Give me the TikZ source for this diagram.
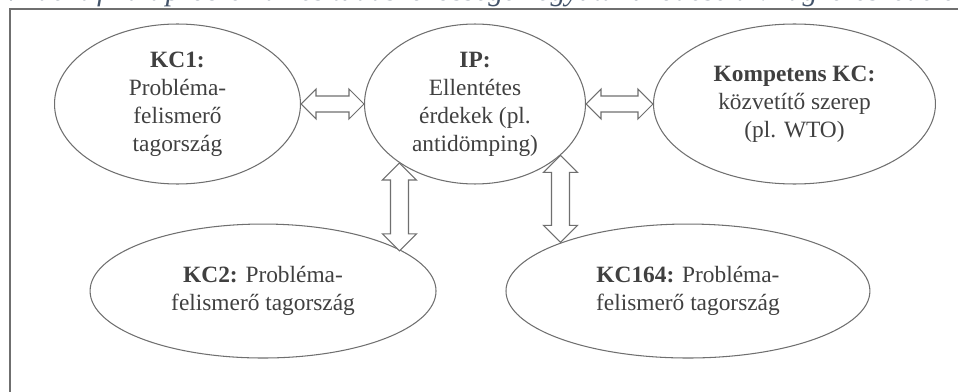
\documentclass[tikz,border=0pt]{standalone}
\usepackage{fontspec}
\setmainfont{Liberation Serif}
\usetikzlibrary{positioning,calc,shapes.geometric}
\definecolor{vonal}{HTML}{6F6F6F}
\definecolor{szoveg}{HTML}{404040}
\definecolor{felirat}{HTML}{44546A}

% üreges kétirányú nyilak
\newcommand{\vizszintes}[2]{\draw[nyil] (#1) -- ++(15,-15) -- ++(0,7) -- ($(#2)+(-15,-8)$) -- ++(0,-7) -- (#2) -- ++(-15,15) -- ++(0,-7) -- ($(#1)+(15,8)$) -- ++(0,7) -- cycle;}
\newcommand{\fuggoleges}[2]{\draw[nyil] (#1) -- ++(17,17) -- ++(-8,0) -- ($(#2)+(9,-17)$) -- ++(8,0) -- (#2) -- ++(-17,-17) -- ++(8,0) -- ($(#1)+(-9,17)$) -- ++(-8,0) -- cycle;}

\begin{document}
\begin{tikzpicture}[x=0.02cm, y=-0.02cm,
  kor/.style={ellipse, draw=vonal, line width=0.6pt, text=szoveg, align=center, inner sep=0pt, minimum height=3.2cm, font=\fontsize{13.3}{15.9}\selectfont},
  nyil/.style={draw=vonal, line width=0.6pt, fill=white, line join=miter}]

\useasboundingbox (0,0) rectangle (958,392);
\clip (0,0) rectangle (958,392);

% keret és a levágott ábracím
\draw[vonal, line width=0.8pt] (10,420) -- (10,9) -- (990,9);
\node[anchor=base west, text=felirat, inner sep=0pt, font=\fontsize{17}{20}\selectfont\itshape] (cim) at (27,1) {\llap{ábra: }Identifikált problémák és tudásközösségek együttműködése a világkereskedelemben};

% felső sor
\node[kor, minimum width=4.42cm] (ip) at (475,104) {\textbf{IP:}\\Ellentétes\\érdekek (pl.\\antidömping)};
\node[kor, minimum width=4.92cm, left=1.26cm of ip] (kc1) {\textbf{KC1:}\\Probléma-\\felismerő\\tagország};
\node[kor, minimum width=5.64cm, right=1.34cm of ip] (komp) {\textbf{Kompetens KC:}\\közvetítő szerep\\(pl. WTO)};

% alsó sor
\node[kor, minimum width=6.92cm, minimum height=2.68cm, below=0.78cm of ip, xshift=-4.24cm] (kc2) {\textbf{KC2:} Probléma-\\felismerő tagország};
\node[kor, minimum width=7.28cm, minimum height=2.68cm, below=0.78cm of ip, xshift=4.26cm] (kc164) {\textbf{KC164:} Probléma-\\felismerő tagország};

% nyilak
\vizszintes{kc1.east}{ip.west}
\vizszintes{ip.east}{komp.west}
\fuggoleges{ip.-142.75}{ip.-142.75 |- kc2.16.8}
\fuggoleges{ip.-31}{ip.-31 |- kc164.159.4}
\end{tikzpicture}
\end{document}
